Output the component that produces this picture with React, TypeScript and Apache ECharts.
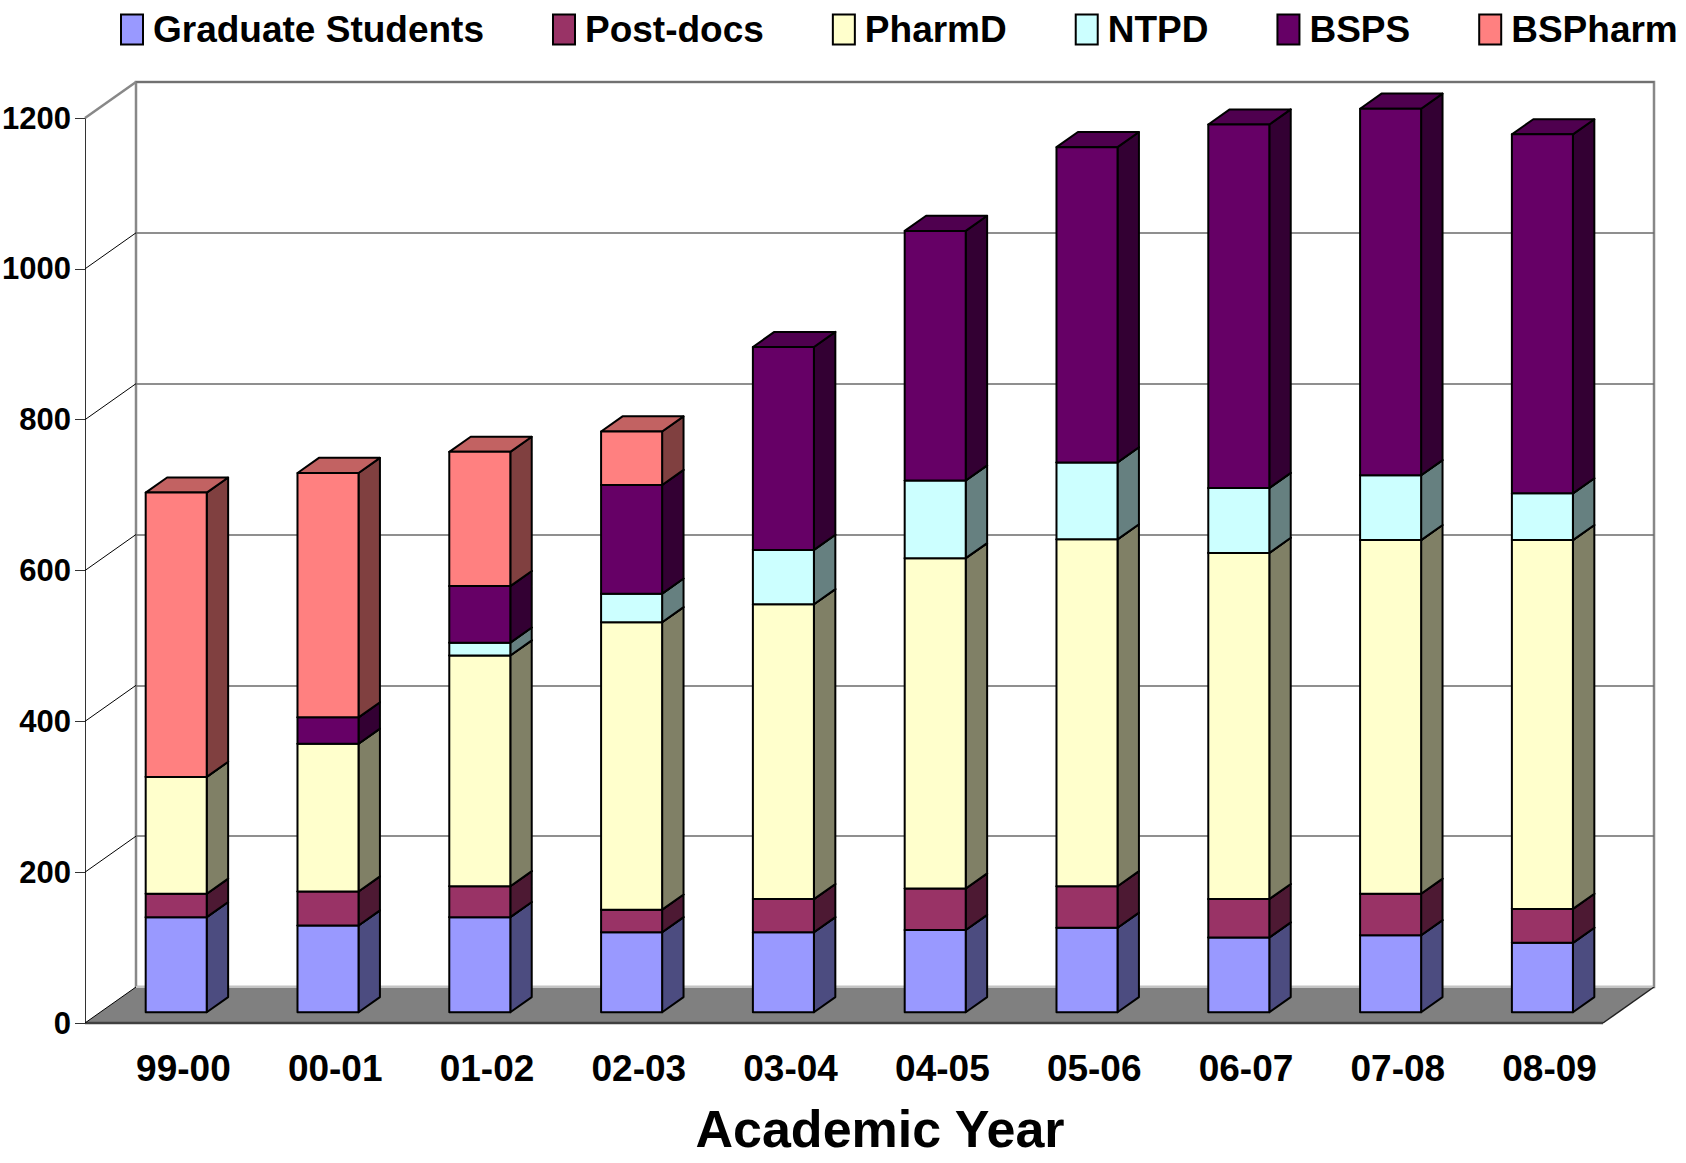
import React, { useEffect, useRef } from "react";
import * as echarts from "echarts";

// ---- data ----
const categories = ["99-00", "00-01", "01-02", "02-03", "03-04", "04-05", "05-06", "06-07", "07-08", "08-09"];
const yTicks = [0, 200, 400, 600, 800, 1000, 1200];
const gradStudents = [126, 115, 126, 106, 106, 109, 112, 99, 102, 92];
const postDocs = [31, 45, 41, 30, 44, 55, 55, 51, 55, 45];
const pharmD = [155, 196, 306, 381, 391, 438, 460, 459, 469, 489];
const ntpd = [0, 0, 17, 38, 72, 103, 102, 86, 86, 62];
const bsps = [0, 35, 75, 144, 269, 331, 418, 482, 486, 476];
const bsPharm = [377, 324, 178, 71, 0, 0, 0, 0, 0, 0];
const seriesNames = ["Graduate Students", "Post-docs", "PharmD", "NTPD", "BSPS", "BSPharm"];
const axisTitle = "Academic Year";

// ---- styles ----
const frontColors = ["#9999FF", "#993366", "#FFFFCC", "#CCFFFF", "#660066", "#FF8080"];
const sideColors = ["#4C4C80", "#4D1933", "#808066", "#668080", "#330033", "#804040"];
const topColors = ["#7575C4", "#752750", "#C4C49C", "#9CC4C4", "#4F004F", "#C26262"];

const DX = 51; // depth offset of the back wall
const DY = -36;
const F0 = 0.3; // bar front-face depth fraction
const F1 = 0.72; // bar back-face depth fraction
const BAR_W = 0.402; // bar width as fraction of band
const GRID = { left: 85, top: 118, width: 1518, height: 905 };
const FONT = "'Liberation Sans', Arial, Helvetica, sans-serif";

function stackedData(s: number) {
  const all = [gradStudents, postDocs, pharmD, ntpd, bsps, bsPharm];
  return categories.map((_, i) => {
    let start = 0;
    for (let k = 0; k < s; k++) start += all[k][i];
    return [i, start, start + all[s][i]];
  });
}

function barRender(s: number) {
  return (params: any, api: any) => {
    const cat = api.value(0);
    const start = api.value(1);
    const end = api.value(2);
    if (end - start <= 0) return null;
    const pb = api.coord([cat, start]);
    const pt = api.coord([cat, end]);
    const band = api.size([1, 0])[0];
    const w = band * BAR_W;
    const x = pb[0] + F0 * DX - w / 2;
    const yb = pb[1] + F0 * DY;
    const yt = pt[1] + F0 * DY;
    const ddx = (F1 - F0) * DX;
    const ddy = (F1 - F0) * DY;
    const st = { stroke: "#000", lineWidth: 2, lineJoin: "round" };
    return {
      type: "group",
      children: [
        {
          type: "polygon",
          shape: { points: [[x + w, yt], [x + w + ddx, yt + ddy], [x + w + ddx, yb + ddy], [x + w, yb]] },
          style: { fill: sideColors[s], ...st },
        },
        {
          type: "polygon",
          shape: { points: [[x, yt], [x + w, yt], [x + w + ddx, yt + ddy], [x + ddx, yt + ddy]] },
          style: { fill: topColors[s], ...st },
        },
        {
          type: "rect",
          shape: { x, y: yt, width: w, height: yb - yt },
          style: { fill: frontColors[s], ...st },
        },
      ],
    };
  };
}

function floorRender(params: any, api: any) {
  const cs = params.coordSys;
  const y0 = api.coord([0, 0])[1];
  const xl = cs.x;
  const xr = cs.x + cs.width;
  return {
    type: "group",
    children: [
      {
        type: "polygon",
        shape: { points: [[xl, y0], [xr, y0], [xr + DX, y0 + DY], [xl + DX, y0 + DY]] },
        style: { fill: "#808080" },
      },
      { type: "line", shape: { x1: xl + DX, y1: y0 + DY, x2: xr + DX, y2: y0 + DY }, style: { stroke: "#c4c4c4", lineWidth: 2 } },
      { type: "line", shape: { x1: xl, y1: y0, x2: xr, y2: y0 }, style: { stroke: "#404040", lineWidth: 2.5 } },
      { type: "line", shape: { x1: xr, y1: y0, x2: xr + DX, y2: y0 + DY }, style: { stroke: "#222", lineWidth: 1.5 } },
    ],
  };
}

function sideLineRender(params: any, api: any) {
  const cs = params.coordSys;
  const v = api.value(1);
  const y = api.coord([0, v])[1];
  const isTop = v === yTicks[yTicks.length - 1];
  return {
    type: "line",
    shape: { x1: cs.x, y1: y, x2: cs.x + DX, y2: y + DY },
    style: isTop ? { stroke: "#888", lineWidth: 2.5 } : { stroke: "#000", lineWidth: 1 },
  };
}

export default function App() {
  const ref = useRef<HTMLDivElement>(null);
  useEffect(() => {
    document.body.style.margin = "0";
    const chart = echarts.init(ref.current as HTMLDivElement, null, { renderer: "svg" });
    const yMax = yTicks[yTicks.length - 1];
    const option: any = {
      animation: false,
      backgroundColor: "#fff",
      legend: {
        data: seriesNames,
        left: 120,
        top: 11,
        width: 1560,
        padding: 0,
        itemGap: 68,
        itemWidth: 22,
        itemHeight: 30,
        icon: "rect",
        selectedMode: false,
        itemStyle: { borderColor: "#000", borderWidth: 2 },
        textStyle: { fontFamily: FONT, fontWeight: "bold", fontSize: 37, color: "#000", padding: [0, 0, 0, 5] },
      },
      grid: [
        { ...GRID, containLabel: false, outerBoundsMode: "none" },
        {
          left: GRID.left + DX,
          top: GRID.top + DY,
          width: GRID.width,
          height: GRID.height,
          outerBoundsMode: "none",
          show: true,
          borderColor: "#888",
          borderWidth: 2.5,
          backgroundColor: "transparent",
        },
      ],
      xAxis: [
        {
          type: "category",
          gridIndex: 0,
          data: categories,
          axisLine: { show: false },
          axisTick: { show: false },
          axisLabel: {
            margin: 27,
            formatter: (v: string) => `{a|${v}}`,
            rich: {
              a: { fontFamily: FONT, fontWeight: "bold", fontSize: 37, color: "#000", padding: [0, 0, 0, 45] },
            },
          },
          name: axisTitle,
          nameLocation: "middle",
          nameGap: 86,
          nameTextStyle: {
            fontFamily: FONT,
            fontWeight: "bold",
            fontSize: 52,
            lineHeight: 40,
            color: "#000",
            padding: [0, 0, 0, 72],
          },
        },
        { type: "category", gridIndex: 1, data: categories, show: false },
      ],
      yAxis: [
        {
          type: "value",
          gridIndex: 0,
          min: 0,
          max: yMax,
          interval: 200,
          axisLine: { show: true, lineStyle: { color: "#333", width: 1 } },
          axisTick: { show: true, length: 10, lineStyle: { color: "#333", width: 1 } },
          splitLine: { show: false },
          axisLabel: {
            margin: 14,
            formatter: (v: number) => String(v),
            fontFamily: FONT,
            fontWeight: "bold",
            fontSize: 31,
            color: "#000",
          },
        },
        {
          type: "value",
          gridIndex: 1,
          min: 0,
          max: yMax,
          interval: 200,
          axisLine: { show: false },
          axisTick: { show: false },
          axisLabel: { show: false },
          splitLine: { show: true, lineStyle: { color: "#6a6a6a", width: 1.5 } },
        },
      ],
      series: [
        {
          type: "custom",
          xAxisIndex: 0,
          yAxisIndex: 0,
          clip: false,
          silent: true,
          data: [[0, 0]],
          renderItem: floorRender,
        },
        {
          type: "custom",
          xAxisIndex: 0,
          yAxisIndex: 0,
          clip: false,
          silent: true,
          data: yTicks.map((v) => [0, v]),
          renderItem: sideLineRender,
        },
        ...seriesNames.map((name, s) => ({
          type: "custom",
          name,
          xAxisIndex: 0,
          yAxisIndex: 0,
          clip: false,
          itemStyle: { color: frontColors[s] },
          data: stackedData(s),
          encode: { x: 0, y: [1, 2] },
          renderItem: barRender(s),
        })),
      ],
    };
    chart.setOption(option);
    return () => chart.dispose();
  }, []);
  return (
    <div
      ref={ref}
      style={{ position: "absolute", left: 0, top: 0, width: 1686, height: 1163, overflow: "hidden" }}
    />
  );
}
